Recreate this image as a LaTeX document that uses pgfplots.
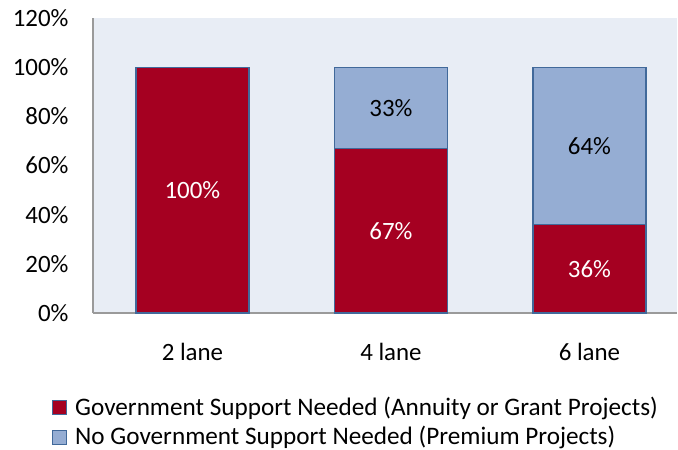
\documentclass[border=0pt]{standalone}
\usepackage{pgfplots}
\pgfplotsset{compat=1.18}
\usepackage{pgfplotstable}
\usepackage{fontspec}
\setmainfont{Carlito}
\definecolor{barred}{HTML}{A50021}
\definecolor{barblue}{HTML}{95ADD3}
\definecolor{baredge}{HTML}{41699A}
\definecolor{bgc}{HTML}{E8EDF5}
\definecolor{axgray}{HTML}{9A9A9A}
\pgfplotstableread{
x gov nogov
0 100 0
1 67 33
2 36 64
}\datatable
\begin{document}
\fontsize{25}{29}\selectfont
\begin{tikzpicture}
\path[use as bounding box] (-93bp,-137bp) rectangle (585bp,313bp);
\begin{axis}[
  at={(0,0)}, anchor=south west,
  scale only axis, width=584bp, height=295bp,
  ybar stacked, bar width=113bp,
  xmin=-0.501, xmax=2.441, ymin=0, ymax=120,
  xtick={0,1,2}, xticklabels={2 lane,4 lane,6 lane},
  ytick={0,20,...,120},
  yticklabel={\pgfmathprintnumber{\tick}\%},
  /pgf/number format/assume math mode=true,
  axis x line*=bottom, axis y line*=left,
  axis line style={axgray, line width=1.2pt, -},
  major tick length=0pt,
  axis background/.style={fill=bgc},
  tick label style={font=\fontsize{25}{29}\selectfont, black},
  yticklabel style={xshift=-16bp},
  xticklabel style={yshift=-22bp},
  legend style={at={(axis description cs:-0.0755,-0.27)}, anchor=north west,
    draw=none, fill=none, font=\fontsize{25.3}{29}\selectfont,
    row sep=3bp, cells={anchor=west}},
  legend cell align=left,
  legend image code/.code={\draw[#1, line width=1pt] (0bp,-7bp) rectangle (14bp,7bp); \path (20bp,0bp);},
  nodes near coords={\ifdim\rawy pt>0pt \pgfmathprintnumber{\rawy}\%\fi},
  visualization depends on={\thisrow{\colname} \as \rawy},
  every node near coord/.append style={anchor=center, font=\fontsize{25}{29}\selectfont},
]
\def\colname{gov}
\addplot[fill=barred, draw=baredge, line width=1.2pt, every node near coord/.append style={text=white}] table[x=x, y=gov] {\datatable};
\addlegendentry{Government Support Needed (Annuity or Grant Projects)}
\def\colname{nogov}
\addplot[fill=barblue, draw=baredge, line width=1.2pt, every node near coord/.append style={text=black}] table[x=x, y=nogov] {\datatable};
\addlegendentry{No Government Support Needed (Premium Projects)}
\end{axis}
\end{tikzpicture}
\end{document}
